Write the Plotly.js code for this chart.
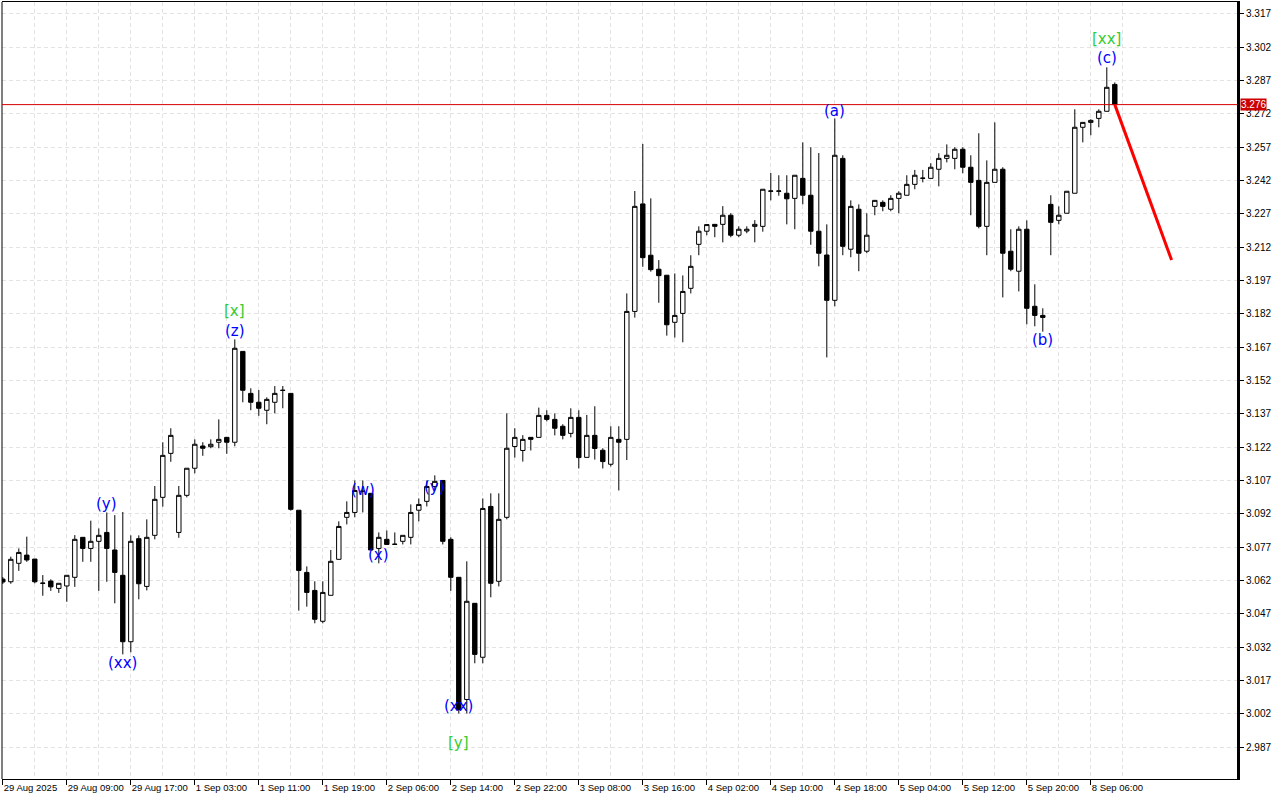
<!DOCTYPE html>
<html>
<head>
<meta charset="utf-8">
<script src="https://cdn.plot.ly/plotly-3.0.1.min.js"></script>
<style>
html,body{margin:0;padding:0;background:#fff;}
#chart{width:1280px;height:800px;}
</style>
</head>
<body>
<div id="chart"></div>
<script>
// Hourly OHLC bars (bar index 0..139)
const openP = [3.0626,3.0614,3.0697,3.0734,3.0716,3.0608,3.0617,3.0584,3.0595,3.0634,
3.0814,3.0764,3.0796,3.0836,3.0757,3.0643,3.0344,3.0808,3.0593,3.0823,
3.0994,3.1192,3.0836,3.1003,3.1125,3.1225,3.1222,3.1242,3.1264,3.1242,
3.1651,3.1462,3.1422,3.1386,3.1422,3.1475,3.1462,3.0936,3.0656,3.0575,
3.0436,3.0553,3.0715,3.0904,3.0926,3.1020,3.1012,3.0764,3.0805,3.0782,
3.0796,3.0814,3.0936,3.0976,3.1043,3.1070,3.0805,3.0634,3.0084,3.0517,
3.0274,3.0953,3.0616,3.0904,3.1223,3.1205,3.1264,3.1264,3.1363,3.1345,
3.1314,3.1282,3.1354,3.1174,3.1273,3.1206,3.1143,3.1255,3.1255,3.1831,
3.2315,3.2084,3.2021,3.1994,3.1782,3.1822,3.1935,3.2133,3.2192,3.2223,
3.2223,3.2264,3.2174,3.2193,3.2214,3.2214,3.2372,3.2372,3.2363,3.2340,
3.2430,3.2354,3.2192,3.2085,3.1881,3.2520,3.2111,3.2291,3.2102,3.2304,
3.2322,3.2291,3.2340,3.2354,3.2403,3.2430,3.2430,3.2471,3.2520,3.2520,
3.2561,3.2480,3.2421,3.2214,3.2412,3.2471,3.2102,3.2012,3.2201,3.1854,
3.1813,3.2313,3.2241,3.2273,3.2363,3.2660,3.2682,3.2700,3.2732,3.2853];
const highP = [3.0635,3.0727,3.0764,3.0817,3.0716,3.0644,3.0625,3.0607,3.0643,3.0824,
3.0814,3.0889,3.0854,3.0926,3.0914,3.0928,3.0823,3.0823,3.0895,3.1045,
3.1242,3.1305,3.1045,3.1125,3.1255,3.1242,3.1255,3.1345,3.1264,3.1705,
3.1651,3.1485,3.1477,3.1444,3.1495,3.1495,3.1462,3.0936,3.0683,3.0616,
3.0616,3.0757,3.0886,3.0976,3.1070,3.1070,3.1012,3.0836,3.0845,3.0836,
3.0823,3.0962,3.0989,3.1070,3.1093,3.1070,3.0814,3.0634,3.0706,3.0517,
3.0989,3.1012,3.1012,3.1372,3.1305,3.1274,3.1264,3.1398,3.1386,3.1372,
3.1323,3.1395,3.1386,3.1365,3.1404,3.1215,3.1314,3.1314,3.1912,3.2373,
3.2585,3.2340,3.2062,3.1994,3.2002,3.1993,3.2084,3.2214,3.2222,3.2223,
3.2305,3.2273,3.2214,3.2214,3.2242,3.2381,3.2454,3.2444,3.2444,3.2444,
3.2592,3.2570,3.2544,3.2223,3.2700,3.2534,3.2331,3.2313,3.2273,3.2331,
3.2331,3.2354,3.2372,3.2444,3.2468,3.2468,3.2498,3.2543,3.2583,3.2570,
3.2570,3.2534,3.2633,3.2511,3.2682,3.2480,3.2201,3.2214,3.2241,3.1953,
3.1845,3.2354,3.2304,3.2372,3.2741,3.2682,3.2696,3.2741,3.2930,3.2862];
const lowP = [3.0604,3.0605,3.0663,3.0704,3.0607,3.0551,3.0573,3.0564,3.0524,3.0591,
3.0704,3.0704,3.0573,3.0614,3.0517,3.0287,3.0296,3.0535,3.0575,3.0805,
3.0952,3.1154,3.0812,3.0994,3.1102,3.1181,3.1215,3.1215,3.1190,3.1224,
3.1422,3.1386,3.1361,3.1323,3.1372,3.1395,3.0934,3.0484,3.0502,3.0427,
3.0427,3.0553,3.0715,3.0872,3.0904,3.0926,3.0757,3.0697,3.0782,3.0782,
3.0782,3.0782,3.0886,3.0953,3.1025,3.0782,3.0573,3.0021,3.0021,3.0247,
3.0247,3.0544,3.0593,3.0895,3.1173,3.1155,3.1205,3.1264,3.1336,3.1273,
3.1255,3.1264,3.1124,3.1174,3.1164,3.1124,3.1133,3.1025,3.1162,3.1803,
3.2032,3.2010,3.1870,3.1722,3.1713,3.1692,3.1912,3.2084,3.2174,3.2165,
3.2142,3.2165,3.2165,3.2183,3.2142,3.2190,3.2331,3.2352,3.2223,3.2201,
3.2313,3.2131,3.2034,3.1624,3.1854,3.2084,3.2075,3.2012,3.2093,3.2264,
3.2282,3.2282,3.2273,3.2354,3.2381,3.2412,3.2430,3.2394,3.2502,3.2471,
3.2453,3.2264,3.2205,3.2084,3.2412,3.1894,3.2012,3.1921,3.1773,3.1764,
3.1740,3.2084,3.2223,3.2273,3.2363,3.2592,3.2624,3.2660,3.2732,3.2762];
const closeP = [3.0613,3.0715,3.0746,3.0712,3.0614,3.0607,3.0591,3.0607,3.0643,3.0805,
3.0764,3.0796,3.0823,3.0764,3.0656,3.0344,3.0796,3.0605,3.0814,3.0985,
3.1183,3.1273,3.1003,3.1125,3.1233,3.1215,3.1233,3.1255,3.1242,3.1665,
3.1476,3.1422,3.1395,3.1435,3.1462,3.1476,3.0940,3.0665,3.0566,3.0445,
3.0566,3.0706,3.0863,3.0926,3.1025,3.1022,3.0757,3.0814,3.0782,3.0783,
3.0823,3.0926,3.0962,3.1043,3.1066,3.0796,3.0634,3.0039,3.0526,3.0287,
3.0944,3.0607,3.0895,3.1215,3.1264,3.1255,3.1255,3.1363,3.1345,3.1305,
3.1273,3.1354,3.1173,3.1273,3.1214,3.1155,3.1264,3.1242,3.1831,3.2304,
3.2073,3.2019,3.1992,3.1771,3.1813,3.1921,3.2034,3.2192,3.2222,3.2214,
3.2264,3.2174,3.2201,3.2201,3.2223,3.2381,3.2373,3.2373,3.2338,3.2444,
3.2354,3.2192,3.2093,3.1881,3.2534,3.2124,3.2304,3.2093,3.2174,3.2331,
3.2304,3.2340,3.2363,3.2403,3.2444,3.2431,3.2480,3.2520,3.2534,3.2561,
3.2480,3.2412,3.2214,3.2412,3.2471,3.2093,3.2021,3.2201,3.1845,3.1813,
3.1804,3.2232,3.2264,3.2372,3.2660,3.2682,3.2691,3.2732,3.2840,3.2762];

// Time axis labels (every 8th bar)
const tickBars = [0,8,16,24,32,40,48,56,64,72,80,88,96,104,112,120,128,136];
const tickLabels = ["29 Aug 2025","29 Aug 09:00","29 Aug 17:00","1 Sep 03:00","1 Sep 11:00",
"1 Sep 19:00","2 Sep 06:00","2 Sep 14:00","2 Sep 22:00","3 Sep 08:00","3 Sep 16:00",
"4 Sep 02:00","4 Sep 10:00","4 Sep 18:00","5 Sep 04:00","5 Sep 12:00","5 Sep 20:00","8 Sep 06:00"];

// Elliott wave labels
const waveText  = ["(y)","(xx)","[x]","(z)","(w)","(x)","(y)","(xx)","[y]","(a)","(b)","(c)","[xx]"];
const waveBar   = [13,15,29,29,45,47,54,57,57,104,130,138,138];
const wavePrice = [3.0964,3.0248,3.1833,3.1743,3.1027,3.0734,3.1040,3.0054,2.9888,3.2733,3.1702,3.2972,3.3057];

// Forecast segment
const forecastBar   = [139,146.1];
const forecastPrice = [3.2762,3.2062];

const bars = openP.map((_, i) => i);
const lastClose = closeP[closeP.length - 1];

const gridCol = '#e3e3e3';
const minorVals = tickBars.map(v => v + 4);

const traces = [
  {
    type: 'candlestick', x: bars, open: openP, high: highP, low: lowP, close: closeP,
    increasing: {line: {color: '#000', width: 1}, fillcolor: '#ffffff'},
    decreasing: {line: {color: '#000', width: 1}, fillcolor: '#000000'},
    whiskerwidth: 0, hoverinfo: 'skip', showlegend: false
  },
  {
    type: 'scatter', mode: 'lines', x: forecastBar, y: forecastPrice,
    line: {color: '#ff0000', width: 3}, hoverinfo: 'skip', showlegend: false
  }
];

const annotations = waveText.map((t, k) => ({
  x: waveBar[k], y: wavePrice[k], xref: 'x', yref: 'y', text: t, showarrow: false,
  font: {family: 'DejaVu Sans', size: 15, color: t.startsWith('[') ? '#33cc33' : '#0000ff'}
}));
annotations.push({
  xref: 'paper', x: 1, xanchor: 'left', xshift: 3, yref: 'y', y: lastClose,
  text: lastClose.toFixed(3), showarrow: false, bgcolor: '#cc0000', borderpad: 0,
  font: {family: 'Liberation Sans', size: 10, color: '#ffffff'}
});

const layout = {
  width: 1280, height: 800,
  margin: {l: 2, r: 43, t: 2, b: 21, pad: 0},
  paper_bgcolor: '#ffffff', plot_bgcolor: '#ffffff',
  showlegend: false,
  boxgap: 0.45, boxgroupgap: 0,
  xaxis: {
    range: [-0.1, 154.275], tickmode: 'array', tickvals: tickBars, ticktext: tickLabels,
    ticks: 'outside', ticklen: 5, tickcolor: '#000', tickwidth: 1, tickangle: 0,
    ticklabelposition: 'outside right',
    tickfont: {family: 'Liberation Sans', size: 9.5, color: '#000'},
    showline: true, linecolor: '#000', linewidth: 1, mirror: true,
    showgrid: true, gridcolor: gridCol, griddash: '4px,3px', gridwidth: 1,
    minor: {tickmode: 'array', tickvals: minorVals, showgrid: true, gridcolor: gridCol, griddash: '4px,3px', ticks: ''},
    zeroline: false, rangeslider: {visible: false}, fixedrange: true
  },
  yaxis: {
    side: 'right', range: [2.9726, 3.3224], tick0: 2.987, dtick: 0.015, tickformat: '.3f',
    ticks: 'outside', ticklen: 4, tickcolor: '#000',
    tickfont: {family: 'Liberation Sans', size: 10, color: '#000'},
    showline: true, linecolor: '#000', linewidth: 3,
    showgrid: true, gridcolor: gridCol, griddash: '4px,3px', gridwidth: 1,
    zeroline: false, fixedrange: true
  },
  shapes: [
    {type: 'line', xref: 'paper', yref: 'paper', x0: 0, x1: 0, y0: 0, y1: 1, line: {color: '#000', width: 1}},
    {type: 'line', xref: 'paper', yref: 'y', x0: 0, x1: 1, y0: lastClose, y1: lastClose, line: {color: '#d40000', width: 1}}
  ],
  annotations: annotations
};

Plotly.newPlot('chart', traces, layout, {displayModeBar: false, staticPlot: true});
</script>
</body>
</html>
